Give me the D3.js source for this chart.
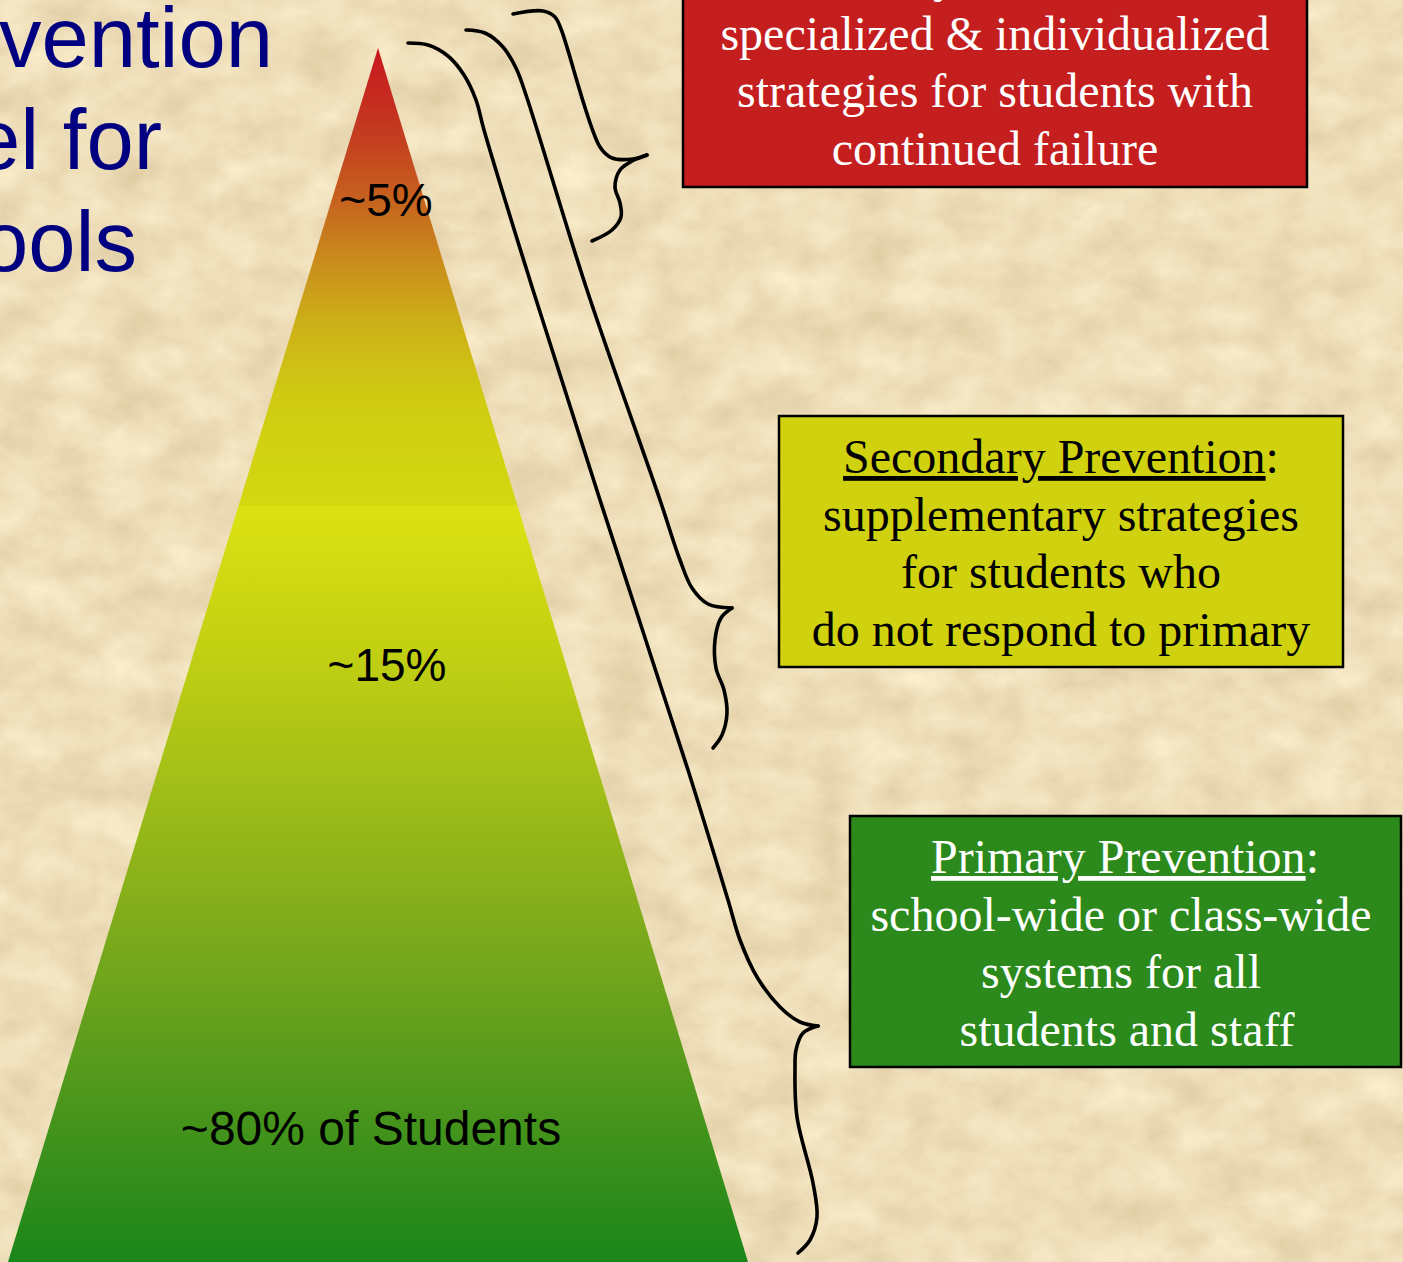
<!DOCTYPE html>
<html>
<head>
<meta charset="utf-8">
<script src="https://cdn.jsdelivr.net/npm/d3@7"></script>
<style>
  html, body { margin: 0; padding: 0; background: #eedcb8; overflow: hidden; }
  svg { display: block; }
</style>
</head>
<body>
<div id="chart"></div>
<script>
// ---- content ----
const titleLines = ["Prevention", "Model for", "Schools"];
const tierLabels = ["~5%", "~15%", "~80% of Students"];
const tierHeads = ["Tertiary Prevention", "Secondary Prevention", "Primary Prevention"];
const tierTexts = [
  ["specialized & individualized", "strategies for students with", "continued failure"],
  ["supplementary strategies", "for students who", "do not respond to primary"],
  ["school-wide or class-wide", "systems for all", " students and staff"]
];
const tierFills = ["#c41e1e", "#d0d20f", "#2b8a1b"];
const tierInk = ["#ffffff", "#000000", "#ffffff"];

// pyramid shading, top (0) to base (1)
const gradientOffsets = [0, 0.068, 0.125, 0.175, 0.224, 0.29, 0.376, 0.378, 0.496, 0.619, 0.743, 0.867, 1];
const gradientColors = ["#c8161e", "#c43a20", "#c6621e", "#ca8c1c", "#ccae18", "#d0cc12", "#d2d810",
                        "#dce212", "#c2d012", "#9ebc18", "#78a81c", "#4c961c", "#1a861a"];

// brace outlines: upper arm (down to the tip) and lower arm (from the tip)
const braceUpper = [
  [[513,14],[543,11],[555,17],[561,29],[600,147],[612,158],[633,159],[647,155]],
  [[466,30],[485,33],[503,47],[516,68],[526,95],[587,290],[660,500],[680,560],[692,588],[708,604],[732,608]],
  [[408,43],[428,45],[448,56],[464,75],[476,100],[484,130],[533,290],[600,500],[688,770],[728,900],[740,940],[757,977],[780,1007],[800,1022],[818,1026]]
];
const braceLower = [
  [[647,155],[632,161],[620,170],[615,187],[620,203],[621,217],[612,230],[592,241]],
  [[732,608],[721,618],[715,640],[716,668],[724,690],[727,713],[722,735],[713,748]],
  [[818,1026],[803,1033],[796,1050],[795,1067],[797,1117],[813,1183],[817,1217],[810,1240],[798,1253]]
];

// ---- layout ----
const W = 1403, H = 1262;
const svg = d3.select("#chart").append("svg").attr("width", W).attr("height", H);
const defs = svg.append("defs");

// parchment background: soft mottled tan texture
const paper = defs.append("filter").attr("id", "paper")
  .attr("x", 0).attr("y", 0).attr("width", W).attr("height", H)
  .attr("filterUnits", "userSpaceOnUse")
  .attr("color-interpolation-filters", "sRGB");
paper.append("feTurbulence").attr("type", "fractalNoise")
  .attr("baseFrequency", "0.02 0.026").attr("numOctaves", 5).attr("seed", 11).attr("result", "n");
paper.append("feColorMatrix").attr("in", "n").attr("type", "matrix")
  .attr("values", "0.13 0 0 0 0.868  0.16 0 0 0 0.79  0.19 0 0 0 0.63  0 0 0 0 1");
svg.append("rect").attr("width", W).attr("height", H).attr("fill", "#eedcb8");
svg.append("rect").attr("width", W).attr("height", H).attr("filter", "url(#paper)");

// title (runs off the left edge)
const titleRight = [273, 162, 137];
const titleY = d3.scalePoint().domain(titleLines).range([67, 271]);
svg.append("g").selectAll("text").data(titleLines).join("text")
  .attr("x", (d, i) => titleRight[i]).attr("y", d => titleY(d))
  .attr("text-anchor", "end")
  .attr("font-family", "'Liberation Sans', Arial, sans-serif")
  .attr("font-size", 85).attr("fill", "#000080")
  .text(d => d);

// pyramid
const apex = { x: 378, y: 48 };
const baseY = 1262;
const t = d3.scaleLinear().domain([0, 1]).range([apex.y, baseY]);
const halfW = d3.scaleLinear().domain([0, 1]).range([0, 370]);

const grad = defs.append("linearGradient").attr("id", "tierGrad")
  .attr("gradientUnits", "userSpaceOnUse")
  .attr("x1", 0).attr("x2", 0).attr("y1", t(0)).attr("y2", t(1));
grad.selectAll("stop").data(gradientOffsets).join("stop")
  .attr("offset", d => d)
  .attr("stop-color", (d, i) => gradientColors[i]);

const tri = d3.path();
tri.moveTo(apex.x, t(0));
tri.lineTo(apex.x + halfW(1), t(1));
tri.lineTo(apex.x - halfW(1), t(1));
tri.closePath();
svg.append("path").attr("d", tri.toString()).attr("fill", "url(#tierGrad)");

// tier labels inside the pyramid
const labelY = d3.scalePoint().domain(tierLabels).range([216, 1145]);
const labelDx = [8, 9, -7];
const labelSize = [46, 46, 48];
svg.append("g").selectAll("text").data(tierLabels).join("text")
  .attr("x", (d, i) => apex.x + labelDx[i]).attr("y", d => labelY(d))
  .attr("text-anchor", "middle")
  .attr("font-family", "'Liberation Sans', Arial, sans-serif")
  .attr("font-size", (d, i) => labelSize[i]).attr("fill", "#000")
  .text(d => d);

// braces
const braceLine = d3.line().curve(d3.curveCatmullRom.alpha(0.5));
const braces = svg.append("g").attr("fill", "none").attr("stroke", "#000")
  .attr("stroke-width", 3.6).attr("stroke-linecap", "round").attr("stroke-linejoin", "round");
braceUpper.forEach((pts, i) => {
  braces.append("path").attr("d", braceLine(pts));
  braces.append("path").attr("d", braceLine(braceLower[i]));
});

// description boxes
const boxes = [
  { x: 683, y: -65, w: 624, h: 252, cx: 995, headDx: 3 },
  { x: 779, y: 416, w: 564, h: 251, cx: 1061, headDx: 0 },
  { x: 850, y: 816, w: 551, h: 251, cx: 1121, headDx: 4 }
];
const lineGap = 57.5;
boxes.forEach((b, i) => {
  const g = svg.append("g");
  g.append("rect").attr("x", b.x).attr("y", b.y).attr("width", b.w).attr("height", b.h)
    .attr("fill", tierFills[i]).attr("stroke", "#000").attr("stroke-width", 2.5);
  const txt = g.append("text")
    .attr("font-family", "'Liberation Serif', 'Times New Roman', serif")
    .attr("font-size", 48).attr("fill", tierInk[i]).attr("text-anchor", "middle");
  const head = txt.append("tspan").attr("x", b.cx + b.headDx).attr("y", b.y + 57);
  head.append("tspan").style("text-decoration", "underline").text(tierHeads[i]);
  head.append("tspan").text(":");
  tierTexts[i].forEach((line, j) => {
    txt.append("tspan").attr("x", b.cx).attr("y", b.y + 57 + lineGap * (j + 1))
      .attr("xml:space", "preserve").text(line);
  });
});
</script>
</body>
</html>
